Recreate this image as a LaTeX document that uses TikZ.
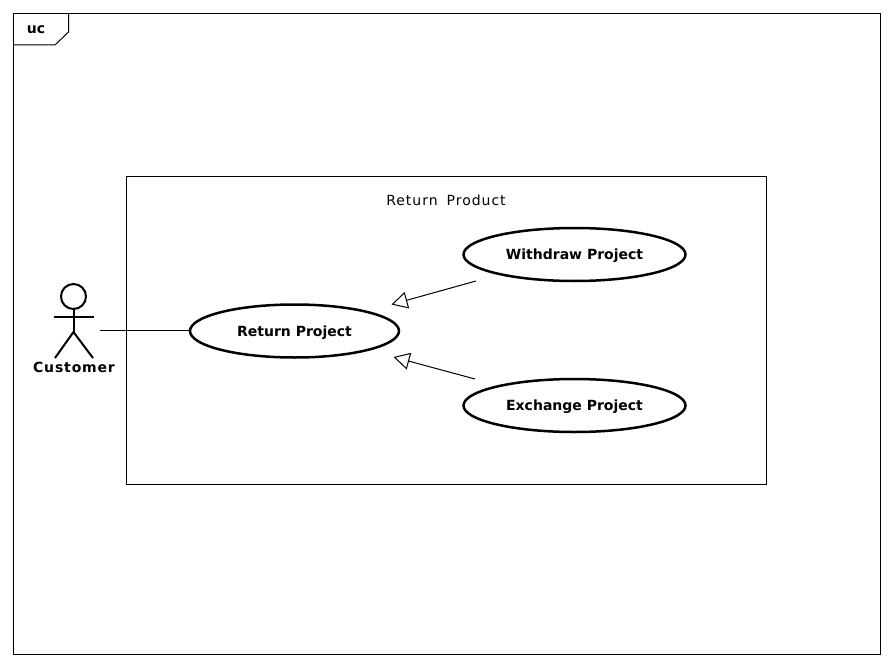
\documentclass[tikz,border=0pt]{standalone}
\usepackage{fontspec}
\setmainfont{DejaVu Sans}
\newfontfamily\labelfont[LetterSpace=7]{DejaVu Sans}
\newfontfamily\actorfont[LetterSpace=6]{DejaVu Sans}
\usetikzlibrary{arrows.meta,shapes.geometric}
\tikzset{
  usecase/.style={draw,ellipse,line width=2.5pt,inner sep=0pt,minimum height=53pt,text height=11pt,text depth=1pt,font=\bfseries\fontsize{14}{16}\selectfont},
  limb/.style={line width=2pt},
  inherit/.style={line width=1pt,-{Triangle[open,length=16pt,width=17pt,line width=1pt]}}
}
\begin{document}
\begin{tikzpicture}[x=1pt,y=-1pt]
\useasboundingbox (0,0) rectangle (893,666);
% frame
\draw[line width=1pt] (13.5,13.5) rectangle (880.5,654.5);
\draw[line width=1pt] (13.5,45) -- (55,45) -- (68.5,32) -- (68.5,13.5);
\node[font=\bfseries\fontsize{14}{16}\selectfont] (frametag) at (36,30) {uc};
% system
\draw[line width=1pt] (126.5,176.5) rectangle (766.5,484.5);
\node[font=\labelfont\fontsize{14}{16}\selectfont] (system) at (446,200) {Return\hspace{9pt}Product};
% use cases
\node[usecase,minimum width=209pt] (return) at (294.5,331) {Return Project};
\node[usecase,minimum width=222pt] (withdraw) at (574.5,254.5) {Withdraw Project};
\node[usecase,minimum width=222pt] (exchange) at (574.5,405.5) {Exchange Project};
% actor
\node[draw,circle,line width=2pt,minimum size=25pt,inner sep=0pt] (head) at (73.5,296.5) {};
\coordinate (hip) at (73.5,332);
\draw[limb] (head.south) -- (hip);
\draw[limb] (54,317) -- (94,317);
\draw[limb] (55,358) -- (hip) -- (93,358);
\node[font=\actorfont\bfseries\fontsize{14}{16}\selectfont] (customer) at (74,367) {Customer};
% links
\coordinate (hand) at (100,330);
\draw[line width=1pt] (hand) -- (return.west |- hand);
\coordinate (wstart) at (476,281);
\coordinate (wend) at (391.5,304.5);
\coordinate (estart) at (475,379);
\coordinate (eend) at (393.5,357);
\draw[inherit] (wstart) -- (wend);
\draw[inherit] (estart) -- (eend);
\end{tikzpicture}
\end{document}
